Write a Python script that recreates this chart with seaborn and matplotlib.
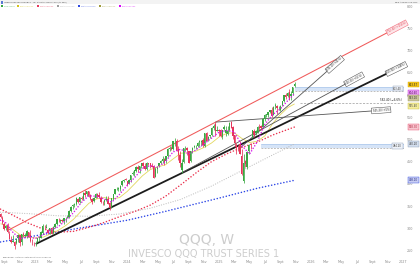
import numpy as np
import pandas as pd
import matplotlib
matplotlib.use("Agg")
import matplotlib.pyplot as plt
import matplotlib.dates as mdates
import seaborn as sns

# ---------------- data ----------------
first_week = "2022-08-15"   # Monday of the first weekly candle

opens = [
    331, 322, 309, 300, 308, 288, 274, 270, 268, 266, 278, 284, 268, 286, 283, 283, 291, 284, 270, 267,
    268, 270, 278, 279, 290, 303, 301, 297, 293, 300, 290, 303, 310, 319, 317, 318, 317, 322, 324, 326,
    339, 349, 353, 355, 366, 358, 369, 366, 380, 377, 383, 374, 365, 362, 369, 377, 374, 369, 359, 358,
    364, 366, 356, 348, 366, 378, 388, 389, 388, 397, 406, 410,
    407, 400, 408, 423, 425, 430, 439, 432, 440, 447, 440, 433, 446, 446, 441, 441, 416, 433, 440, 446,
    451, 457, 452, 463, 479, 481, 479, 496, 497, 479, 465, 432, 449, 480, 480, 473, 452, 476, 482, 487,
    485, 495, 495, 498, 486, 514, 499, 508, 509, 525, 535, 519, 521,
    521, 505, 524, 514, 513, 522, 539, 527, 509, 486, 481, 489, 463, 406, 451, 437, 473, 486, 506, 520,
    515, 517, 529, 530, 527, 547, 555, 556, 562, 567, 556, 575, 576, 570, 566, 577, 586, 600, 597, 606,
    597, 605, 620,
]
highs = [
    334, 327, 314, 307, 312, 293, 282, 285, 272, 277, 286, 285, 288, 292, 289, 296, 292, 296, 275, 269,
    271, 279, 282, 293, 310, 308, 309, 298, 301, 303, 306, 312, 320, 322, 321, 320, 323, 325, 329, 340,
    350, 354, 356, 371, 368, 370, 372, 381, 387, 384, 384, 377, 367, 371, 379, 379, 381, 372, 362, 365,
    372, 372, 359, 368, 378, 389, 392, 392, 397, 409, 411, 412,
    407, 411, 421, 428, 432, 440, 442, 440, 448, 450, 446, 449, 448, 448, 447, 442, 437, 441, 446, 454,
    463, 458, 463, 480, 485, 485, 497, 503, 501, 485, 473, 457, 481, 486, 482, 475, 475, 483, 488, 488,
    494, 498, 499, 504, 514, 516, 507, 510, 527, 534, 539, 530, 523,
    524, 522, 533, 530, 530, 539, 541, 530, 511, 491, 487, 497, 478, 467, 453, 473, 489, 492, 522, 524,
    522, 530, 535, 532, 548, 557, 558, 562, 567, 574, 575, 581, 578, 575, 577, 587, 599, 605, 607, 613,
    608, 618, 629,
]
lows = [
    323, 310, 296, 295, 290, 276, 267, 268, 254, 264, 270, 261, 262, 280, 281, 278, 280, 269, 262, 259,
    260, 268, 272, 278, 288, 298, 300, 288, 288, 287, 287, 300, 307, 314, 312, 313, 310, 315, 322, 324,
    336, 344, 348, 353, 357, 357, 363, 364, 370, 373, 371, 364, 355, 359, 369, 368, 369, 357, 353, 352,
    362, 354, 342, 346, 363, 376, 387, 384, 384, 395, 403, 408,
    396, 399, 404, 420, 418, 427, 427, 424, 436, 436, 432, 432, 443, 435, 437, 413, 415, 425, 438, 445,
    447, 442, 448, 461, 474, 476, 476, 486, 473, 454, 439, 425, 446, 474, 465, 448, 450, 469, 480, 478,
    484, 486, 486, 482, 484, 496, 497, 503, 507, 521, 508, 518, 507,
    506, 500, 521, 508, 510, 519, 525, 500, 483, 468, 474, 467, 420, 402, 437, 434, 468, 478, 504, 506,
    511, 515, 522, 522, 526, 542, 550, 551, 559, 551, 554, 569, 558, 566, 563, 576, 584, 591, 596, 589,
    589, 599, 617,
]
closes = [
    326, 311, 299, 306, 291, 276, 268, 270, 260, 276, 285, 266, 288, 284, 284, 293, 281, 271, 268, 266,
    269, 278, 279, 292, 305, 302, 301, 290, 300, 288, 303, 310, 320, 318, 318, 317, 322, 324, 326, 339,
    348, 353, 354, 368, 360, 370, 365, 380, 375, 383, 373, 365, 360, 368, 377, 373, 370, 359, 358, 364,
    364, 355, 346, 367, 378, 388, 389, 390, 396, 406, 409, 409,
    398, 409, 421, 424, 431, 439, 434, 440, 447, 440, 433, 446, 444, 440, 439, 414, 433, 439, 446, 451,
    457, 450, 462, 479, 480, 479, 496, 496, 475, 466, 448, 448, 480, 480, 476, 448, 475, 480, 486, 487,
    493, 496, 496, 487, 514, 496, 505, 509, 526, 530, 518, 522, 518,
    508, 521, 529, 522, 520, 538, 526, 508, 491, 480, 480, 468, 422, 446, 444, 472, 488, 485, 521, 510,
    519, 529, 526, 526, 546, 556, 555, 561, 566, 553, 574, 577, 571, 570, 576, 586, 599, 596, 605, 589,
    603, 617, 624,
]

# moving averages (monthly samples)
ma_dates = ["2022-08-15", "2022-09-01", "2022-10-01", "2022-11-01", "2022-12-01",
            "2023-01-01", "2023-02-01", "2023-03-01", "2023-04-01", "2023-05-01", "2023-06-01",
            "2023-07-01", "2023-08-01", "2023-09-01", "2023-10-01", "2023-11-01", "2023-12-01",
            "2024-01-01", "2024-02-01", "2024-03-01", "2024-04-01", "2024-05-01", "2024-06-01",
            "2024-07-01", "2024-08-01", "2024-09-01", "2024-10-01", "2024-11-01", "2024-12-01",
            "2025-01-01", "2025-02-01", "2025-03-01", "2025-04-01", "2025-05-01", "2025-06-01",
            "2025-07-01", "2025-08-01", "2025-09-01", "2025-10-01", "2025-10-27"]
ema10 = [318, 315, 292, 276, 281,
         277, 285, 296, 303, 318, 335, 357, 373, 372, 366, 359, 376,
         397, 415, 435, 441, 437, 450, 472, 478, 467, 477, 490, 503,
         517, 520, 517, 486, 467, 495, 534, 556, 569, 588, 603]
ema20 = [310, 308, 298, 285, 280,
         278, 280, 287, 295, 306, 320, 338, 356, 366, 369, 366, 369,
         383, 401, 418, 432, 438, 443, 456, 469, 470, 474, 482, 492,
         506, 514, 515, 502, 493, 496, 508, 536, 556, 572, 580]

sma50_dates = ["2022-08-15", "2022-10-01", "2022-12-01", "2023-02-01", "2023-04-01", "2023-06-01",
               "2023-08-01", "2023-10-01", "2023-12-01", "2024-02-01", "2024-04-01", "2024-06-01",
               "2024-08-01", "2024-10-01", "2024-12-01", "2025-02-01", "2025-04-01", "2025-06-01",
               "2025-08-01", "2025-10-27"]
sma50 = [343, 330, 312, 298, 291, 293, 302, 313, 326, 338, 352, 372,
         398, 425, 450, 468, 482, 494, 510, 528]

sma100_dates = ["2022-08-15", "2022-12-01", "2023-04-01", "2023-08-01", "2023-12-01", "2024-04-01",
                "2024-08-01", "2024-12-01", "2025-04-01", "2025-08-01", "2025-10-27"]
sma100 = [336, 333, 328, 327, 332, 345, 365, 395, 430, 465, 490]

sma200_dates = ["2022-08-15", "2023-01-01", "2023-06-01", "2024-01-01", "2024-06-01",
                "2025-01-01", "2025-06-01", "2025-10-27"]
sma200 = [269, 283, 298, 318, 338, 368, 390, 408]

# drawn trend lines
trend_start_dates = ["2022-09-16", "2023-01-02", "2025-03-25", "2024-08-05", "2024-12-16"]
trend_start_prices = [296, 264.5, 481, 425, 539]
trend_end_dates = ["2027-01-05", "2026-12-20", "2026-05-03", "2026-07-22", "2026-11-10"]
trend_end_prices = [760, 662.6, 683, 645, 567]
trend_label_texts = ["752.40 (+154%)", "655.90 (+148%)", "676.10 (+41%)", "640.30 (+51%)", "565.20 (+5%)"]
trend_label_fracs = [0.982, 0.99, 0.93, 0.956, 0.95]

# horizontal levels
band_lows = [610, 481]
band_highs = [619, 490]
band_starts = ["2025-10-27", "2025-06-16"]
band_label_texts = ["613.40", "484.20"]
dash_level = 582.4
dash_start = "2025-11-17"
dash_text = "582.40 (\u22126.6%)"

# right-scale labels
scale_values = [623.57, 604.60, 593.10, 575.40, 528.30, 490.20, 408.10]
price_ticks = [250, 300, 350, 400, 450, 500, 550, 600, 650, 700, 750, 800]

time_tick_dates = ["2022-09-01", "2022-11-01", "2023-01-01", "2023-03-01", "2023-05-01", "2023-07-01",
                   "2023-09-01", "2023-11-01", "2024-01-01", "2024-03-01", "2024-05-01", "2024-07-01",
                   "2024-09-01", "2024-11-01", "2025-01-01", "2025-03-01", "2025-05-01", "2025-07-01",
                   "2025-09-01", "2025-11-01", "2026-01-01", "2026-03-01", "2026-05-01", "2026-07-01",
                   "2026-09-01", "2026-11-01", "2027-01-01"]
time_tick_labels = ["Sept", "Nov", "2023", "Mar", "May", "Jul", "Sept", "Nov", "2024", "Mar", "May", "Jul",
                    "Sept", "Nov", "2025", "Mar", "May", "Jul", "Sept", "Nov", "2026", "Mar", "May", "Jul",
                    "Sept", "Nov", "2027"]

legend_texts = ["QQQ 623.57", "EMA 20 575.40", "SMA 50 528.30", "SMA 100 490.20",
                "SMA 200 408.10", "EMA 30 593.10", "EMA 10 604.60"]

# ---------------- styling ----------------
sns.set_theme(style="white")
plt.rcParams["font.family"] = ["DejaVu Sans"]

GREEN, RED = "#3aa843", "#e5355a"
W, H = 420, 265
fig = plt.figure(figsize=(W / 100, H / 100), dpi=100)
fig.patch.set_facecolor("white")
ax = fig.add_axes([0, 6 / H, 404 / W, 259 / H])
ax.set_facecolor("white")

d2n = lambda d: mdates.date2num(pd.to_datetime(d))
xmin, xmax = d2n("2022-08-13"), d2n("2027-01-05")
ax.set_xlim(xmin, xmax)
ax.set_ylim(230.7, 814)
for s in ax.spines.values():
    s.set_visible(False)

# candles
week = pd.date_range(first_week, periods=len(closes), freq="7D")
cd = pd.DataFrame({"x": mdates.date2num(week), "open": opens, "high": highs, "low": lows, "close": closes})
col = np.where(cd["close"] >= cd["open"], GREEN, RED)
ax.vlines(cd["x"], cd["low"], cd["high"], colors=col, lw=0.55, zorder=4)
ax.bar(cd["x"], np.maximum((cd["close"] - cd["open"]).abs(), 1.2), bottom=np.minimum(cd["open"], cd["close"]),
       width=5.4, color=col, lw=0, zorder=5)


def sline(dates, vals, color, lw, style="-", z=3, cap="round"):
    sns.lineplot(x=d2n(dates), y=vals, ax=ax, color=color, linewidth=lw, legend=False, zorder=z)
    ln = ax.lines[-1]
    ln.set_linestyle(style)
    ln.set_dash_capstyle(cap)
    ln.set_solid_capstyle("butt")
    return ln


# moving averages
sline(sma100_dates, sma100, "#bdbdbd", 0.85, (0, (0.05, 2.0)), z=2)
sline(sma200_dates, sma200, "#2a44e6", 1.15, (0, (0.05, 1.9)), z=3)
sline(sma50_dates, sma50, "#ea3450", 1.15, (0, (0.05, 1.9)), z=3)
sline(ma_dates, ema20, "#e3d85e", 0.6, "-", z=3)
sline(ma_dates, ema10, "#d81fe8", 1.15, (0, (0.05, 1.8)), z=6)

# bands and dashed levels
for lo, hi, st, txt in zip(band_lows, band_highs, band_starts, band_label_texts):
    ax.fill_between([d2n(st), xmax], lo, hi, color="#d6e4f7", lw=0, zorder=1)
    ax.plot([d2n(st), xmax], [hi, hi], color="#9fbfe8", lw=0.4, zorder=1)
    ax.plot([d2n(st), xmax], [lo, lo], color="#9a9a9a", lw=0.45, ls=(0, (3, 2)), zorder=1)
    ax.text(0.995, (lo + hi) / 2, txt, transform=ax.get_yaxis_transform(), ha="right", va="center",
            fontsize=1.8, color="#333", zorder=8,
            bbox=dict(boxstyle="square,pad=0.3", fc="#eef2f8", ec="#8a9bb5", lw=0.3))
ax.plot([d2n(dash_start), xmax], [dash_level, dash_level], color="#9a9a9a", lw=0.5, ls=(0, (3, 2)), zorder=1)
ax.text(0.995, dash_level + 3, dash_text, transform=ax.get_yaxis_transform(), ha="right", va="bottom",
        fontsize=2.0, color="#222", zorder=8)

# trend lines
tl_colors = ["#f05a5a", "#1c1c1c", "#555555", "#555555", "#555555"]
tl_widths = [0.75, 1.3, 0.6, 0.6, 0.6]
for i in range(len(trend_start_dates)):
    sline([trend_start_dates[i], trend_end_dates[i]], [trend_start_prices[i], trend_end_prices[i]],
          tl_colors[i], tl_widths[i], "-", z=3)

for i in range(len(trend_start_dates)):
    x0, x1 = d2n(trend_start_dates[i]), d2n(trend_end_dates[i])
    y0, y1 = trend_start_prices[i], trend_end_prices[i]
    f = trend_label_fracs[i]
    (a0, b0), (a1, b1) = ax.transData.transform([(x0, y0), (x1, y1)])
    ang = np.degrees(np.arctan2(b1 - b0, a1 - a0))
    red = i == 0
    ax.text(x0 + f * (x1 - x0), y0 + f * (y1 - y0), trend_label_texts[i], rotation=ang,
            rotation_mode="anchor", ha="center", va="center", fontsize=1.8,
            color="#e04050" if red else "#222", zorder=9, clip_on=False,
            bbox=dict(boxstyle="square,pad=0.35", fc="#fde6e9" if red else "white",
                      ec="#f06070" if red else "#444", lw=0.35))

# axes ticks
ax.yaxis.tick_right()
ax.set_yticks(price_ticks)
ax.set_yticklabels([str(v) for v in price_ticks])
ax.tick_params(axis="y", length=0, pad=2.2, labelsize=2.4, labelcolor="#8a8a8a")
ax.set_xticks(d2n(time_tick_dates))
ax.set_xticklabels(time_tick_labels)
ax.tick_params(axis="x", length=0, pad=0.8, labelsize=2.4, labelcolor="#8a8a8a")
ax.grid(False)

# right scale colored labels
sc_fc = ["#f5c518", "#e9a0f5", "#c9c59a", "#f3ec9c", "#f7c6cf", "#d3deee", "#c8cdf2"]
sc_ec = ["#d8a800", "#c020d8", "#9a9560", "#c9bd3a", "#e84a6a", "#8a9bb5", "#2f49e0"]
sc_tc = ["#222", "#5a005f", "#333", "#444", "#b0203c", "#333", "#1a237e"]
for v, fc, ec, tc in zip(scale_values, sc_fc, sc_ec, sc_tc):
    ax.text(1.012, v, f"{v:.2f}", transform=ax.get_yaxis_transform(), ha="left", va="center",
            fontsize=1.9, color=tc, zorder=9, clip_on=False,
            bbox=dict(boxstyle="square,pad=0.35", fc=fc, ec=ec, lw=0.3))

# header / legend / watermark
fx = lambda px: px / W
fy = lambda py: 1 - py / H
fig.patches.append(plt.Rectangle((0, fy(4)), 1, 4 / H, transform=fig.transFigure, fc="#f3f3f3", ec="none", zorder=0))
fig.patches.append(plt.Rectangle((fx(0.5), fy(3.5)), 2.5 / W, 3 / H, transform=fig.transFigure, fc="#5b7bd5", ec="none"))
fig.text(fx(4), fy(2.0), "INVESCO QQQ TRUST SERIES 1 \u00b7 1W \u00b7 NASDAQ  623.57 +6.57 (+1.06%)",
         fontsize=1.3, color="#333", ha="left", va="center")
fig.text(fx(418), fy(2.0), "www.tradingview.com", fontsize=1.5, color="#555", ha="right", va="center")
leg_x = [1, 17, 37, 57, 78, 99, 119]
leg_c = [GREEN, "#d4c21a", "#e5395c", "#9e9e9e", "#2f49e0", "#9e9a3a", "#d500f9"]
for lx, lc, lt in zip(leg_x, leg_c, legend_texts):
    fig.patches.append(plt.Rectangle((fx(lx), fy(7.3)), 1.8 / W, 2.2 / H, transform=fig.transFigure, fc=lc, ec="none"))
    fig.text(fx(lx + 2.6), fy(6.2), lt, fontsize=1.3, color=lc, ha="left", va="center", alpha=0.8)

fig.text(fx(207), fy(240), "QQQ, W", fontsize=10, color="#cdcdcd", ha="center", va="center")
fig.text(fx(203.5), fy(254), "INVESCO QQQ TRUST SERIES 1", fontsize=7, color="#cdcdcd", ha="center", va="center")
fig.text(fx(2), fy(257.5), "TradingView \u00b7 historical data adjusted for dividends", fontsize=1.4, color="#666",
         ha="left", va="center")

fig.savefig("out.png", dpi=100, facecolor="white")
